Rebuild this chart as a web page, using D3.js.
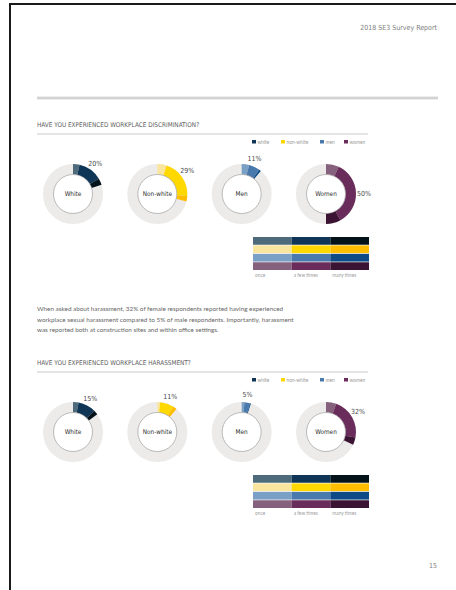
<!DOCTYPE html>
<html>
<head>
<meta charset="utf-8">
<script src="https://cdn.jsdelivr.net/npm/d3@7"></script>
<style>
  html, body { margin: 0; padding: 0; background: #fff; }
  svg { display: block; }
  .cond { font-family: "Liberation Sans Narrow", "DejaVu Sans Condensed", "Roboto Condensed", sans-serif; font-stretch: condensed; }
  .body { font-family: "Lato", "Open Sans", sans-serif; }
</style>
</head>
<body>
<script>
// Survey report page: two donut panels (discrimination / harassment) with frequency key

const groups = ["White", "Non-white", "Men", "Women"];
const legendLabels = ["white", "non-white", "men", "women"];
const frequencies = ["once", "a few times", "many times"];

// percent of respondents per group, split by frequency [once, a few times, many times]
const discrimination = [
  [3.5, 13, 3.5],
  [5, 21, 3],
  [4, 6, 1],
  [7, 35, 8]
];
const harassment = [
  [3, 9.5, 2.5],
  [1.5, 7.5, 2],
  [1.5, 3, 0.5],
  [5.5, 22.5, 4]
];
const totals1 = ["20%", "29%", "11%", "50%"];
const totals2 = ["15%", "11%", "5%", "32%"];

const paragraph = [
  "When asked about harassment, 32% of female respondents reported having experienced",
  "workplace sexual harassment compared to 5% of male respondents. Importantly, harassment",
  "was reported both at construction sites and within office settings."
];

// shades per group: once, a few times, many times
const palette = [
  ["#4d6b7b", "#0f3656", "#04121a"],
  ["#f9e59d", "#ffd800", "#ffbd00"],
  ["#7ba0c5", "#4a7aad", "#0d4a86"],
  ["#86617e", "#6a2c5a", "#3c1433"]
];

const width = 456, height = 590;
const margin = { left: 37, right: 18 };

const svg = d3.select("body").append("svg")
  .attr("width", width)
  .attr("height", height);

// page frame (only top + left visible)
svg.append("path")
  .attr("d", `M10,${height + 5} L10,4 L${width + 5},4`)
  .attr("fill", "none")
  .attr("stroke", "#1a1a1a")
  .attr("stroke-width", 2);

svg.append("text")
  .attr("class", "cond")
  .attr("x", 437)
  .attr("y", 30)
  .attr("text-anchor", "end")
  .attr("fill", "#808080")
  .style("font-size", "7px")
  .text("2018 SE3 Survey Report");

// double rule
svg.append("line")
  .attr("x1", margin.left).attr("x2", 438)
  .attr("y1", 98).attr("y2", 98)
  .attr("stroke", "#dcdcdc").attr("stroke-width", 3);
svg.append("line")
  .attr("x1", margin.left).attr("x2", 438)
  .attr("y1", 98).attr("y2", 98)
  .attr("stroke", "#c4c4c4").attr("stroke-width", 0.8);

const x = d3.scalePoint()
  .domain(groups)
  .range([73, 326]);

const angle = d3.scaleLinear()
  .domain([0, 100])
  .range([0, 2 * Math.PI]);

const rOuter = 30, rInner = 19.5;

const colX = d3.scaleBand()
  .domain(frequencies)
  .range([253, 369]);

function panel(top, title, data, totals) {
  const g = svg.append("g");

  g.append("text")
    .attr("class", "cond")
    .attr("x", margin.left)
    .attr("y", top)
    .attr("fill", "#5e5e5e")
    .style("font-size", "6.4px")
    .text(title);

  g.append("line")
    .attr("x1", margin.left).attr("x2", 368)
    .attr("y1", top + 7).attr("y2", top + 7)
    .attr("stroke", "#bdbdbd").attr("stroke-width", 0.8);

  // legend
  const legendX = [252, 281, 320, 344];
  legendLabels.forEach((lab, i) => {
    g.append("rect")
      .attr("x", legendX[i]).attr("y", top + 13)
      .attr("width", 4).attr("height", 3.5)
      .attr("fill", palette[i][1]);
    g.append("text")
      .attr("class", "body")
      .attr("x", legendX[i] + 5.5).attr("y", top + 16.5)
      .attr("fill", "#9a9a9a")
      .style("font-size", "4.8px")
      .text(lab);
  });

  const cy = top + 67;

  groups.forEach((grp, i) => {
    const d = g.append("g").attr("transform", `translate(${x(grp)},${cy})`);

    d.append("circle")
      .attr("r", (rOuter + rInner) / 2)
      .attr("fill", "none")
      .attr("stroke", "#ecebea")
      .attr("stroke-width", rOuter - rInner);

    let acc = 0;
    data[i].forEach((v, j) => {
      d.append("path")
        .attr("d", d3.arc()
          .innerRadius(rInner)
          .outerRadius(rOuter)
          .startAngle(angle(acc))
          .endAngle(angle(acc + v))())
        .attr("fill", palette[i][j]);
      acc += v;
    });

    d.append("circle")
      .attr("r", rInner)
      .attr("fill", "#fff")
      .attr("stroke", "#9d9d9d")
      .attr("stroke-width", 0.7);

    d.append("text")
      .attr("class", "cond")
      .attr("text-anchor", "middle")
      .attr("dy", "0.35em")
      .attr("fill", "#2e2e2e")
      .style("font-size", "6.4px")
      .text(grp);

    const mid = angle(acc / 2);
    d.append("text")
      .attr("class", "cond")
      .attr("x", Math.sin(mid) * 38)
      .attr("y", -Math.cos(mid) * 38)
      .attr("text-anchor", "middle")
      .attr("dy", "0.35em")
      .attr("fill", "#4a4a4a")
      .style("font-size", "7px")
      .text(totals[i]);
  });

  // frequency key
  const rowY = d3.scaleBand()
    .domain(groups)
    .range([cy + 43, cy + 76])
    .paddingInner(0.08);

  groups.forEach((grp, i) => {
    frequencies.forEach((f, j) => {
      g.append("rect")
        .attr("x", colX(f))
        .attr("y", rowY(grp))
        .attr("width", colX.bandwidth())
        .attr("height", rowY.bandwidth())
        .attr("fill", palette[i][j]);
    });
  });

  frequencies.forEach(f => {
    g.append("text")
      .attr("class", "body")
      .attr("x", colX(f) + 2)
      .attr("y", cy + 82.5)
      .attr("fill", "#a0a0a0")
      .style("font-size", "4.8px")
      .text(f);
  });
}

panel(127, "HAVE YOU EXPERIENCED WORKPLACE DISCRIMINATION?", discrimination, totals1);

paragraph.forEach((line, i) => {
  svg.append("text")
    .attr("class", "body")
    .attr("x", margin.left)
    .attr("y", 311 + i * 10.5)
    .attr("fill", "#666")
    .style("font-size", "6.35px")
    .text(line);
});

panel(365, "HAVE YOU EXPERIENCED WORKPLACE HARASSMENT?", harassment, totals2);

svg.append("text")
  .attr("class", "cond")
  .attr("x", 437)
  .attr("y", 568)
  .attr("text-anchor", "end")
  .attr("fill", "#808080")
  .style("font-size", "7px")
  .text("15");
</script>
</body>
</html>
